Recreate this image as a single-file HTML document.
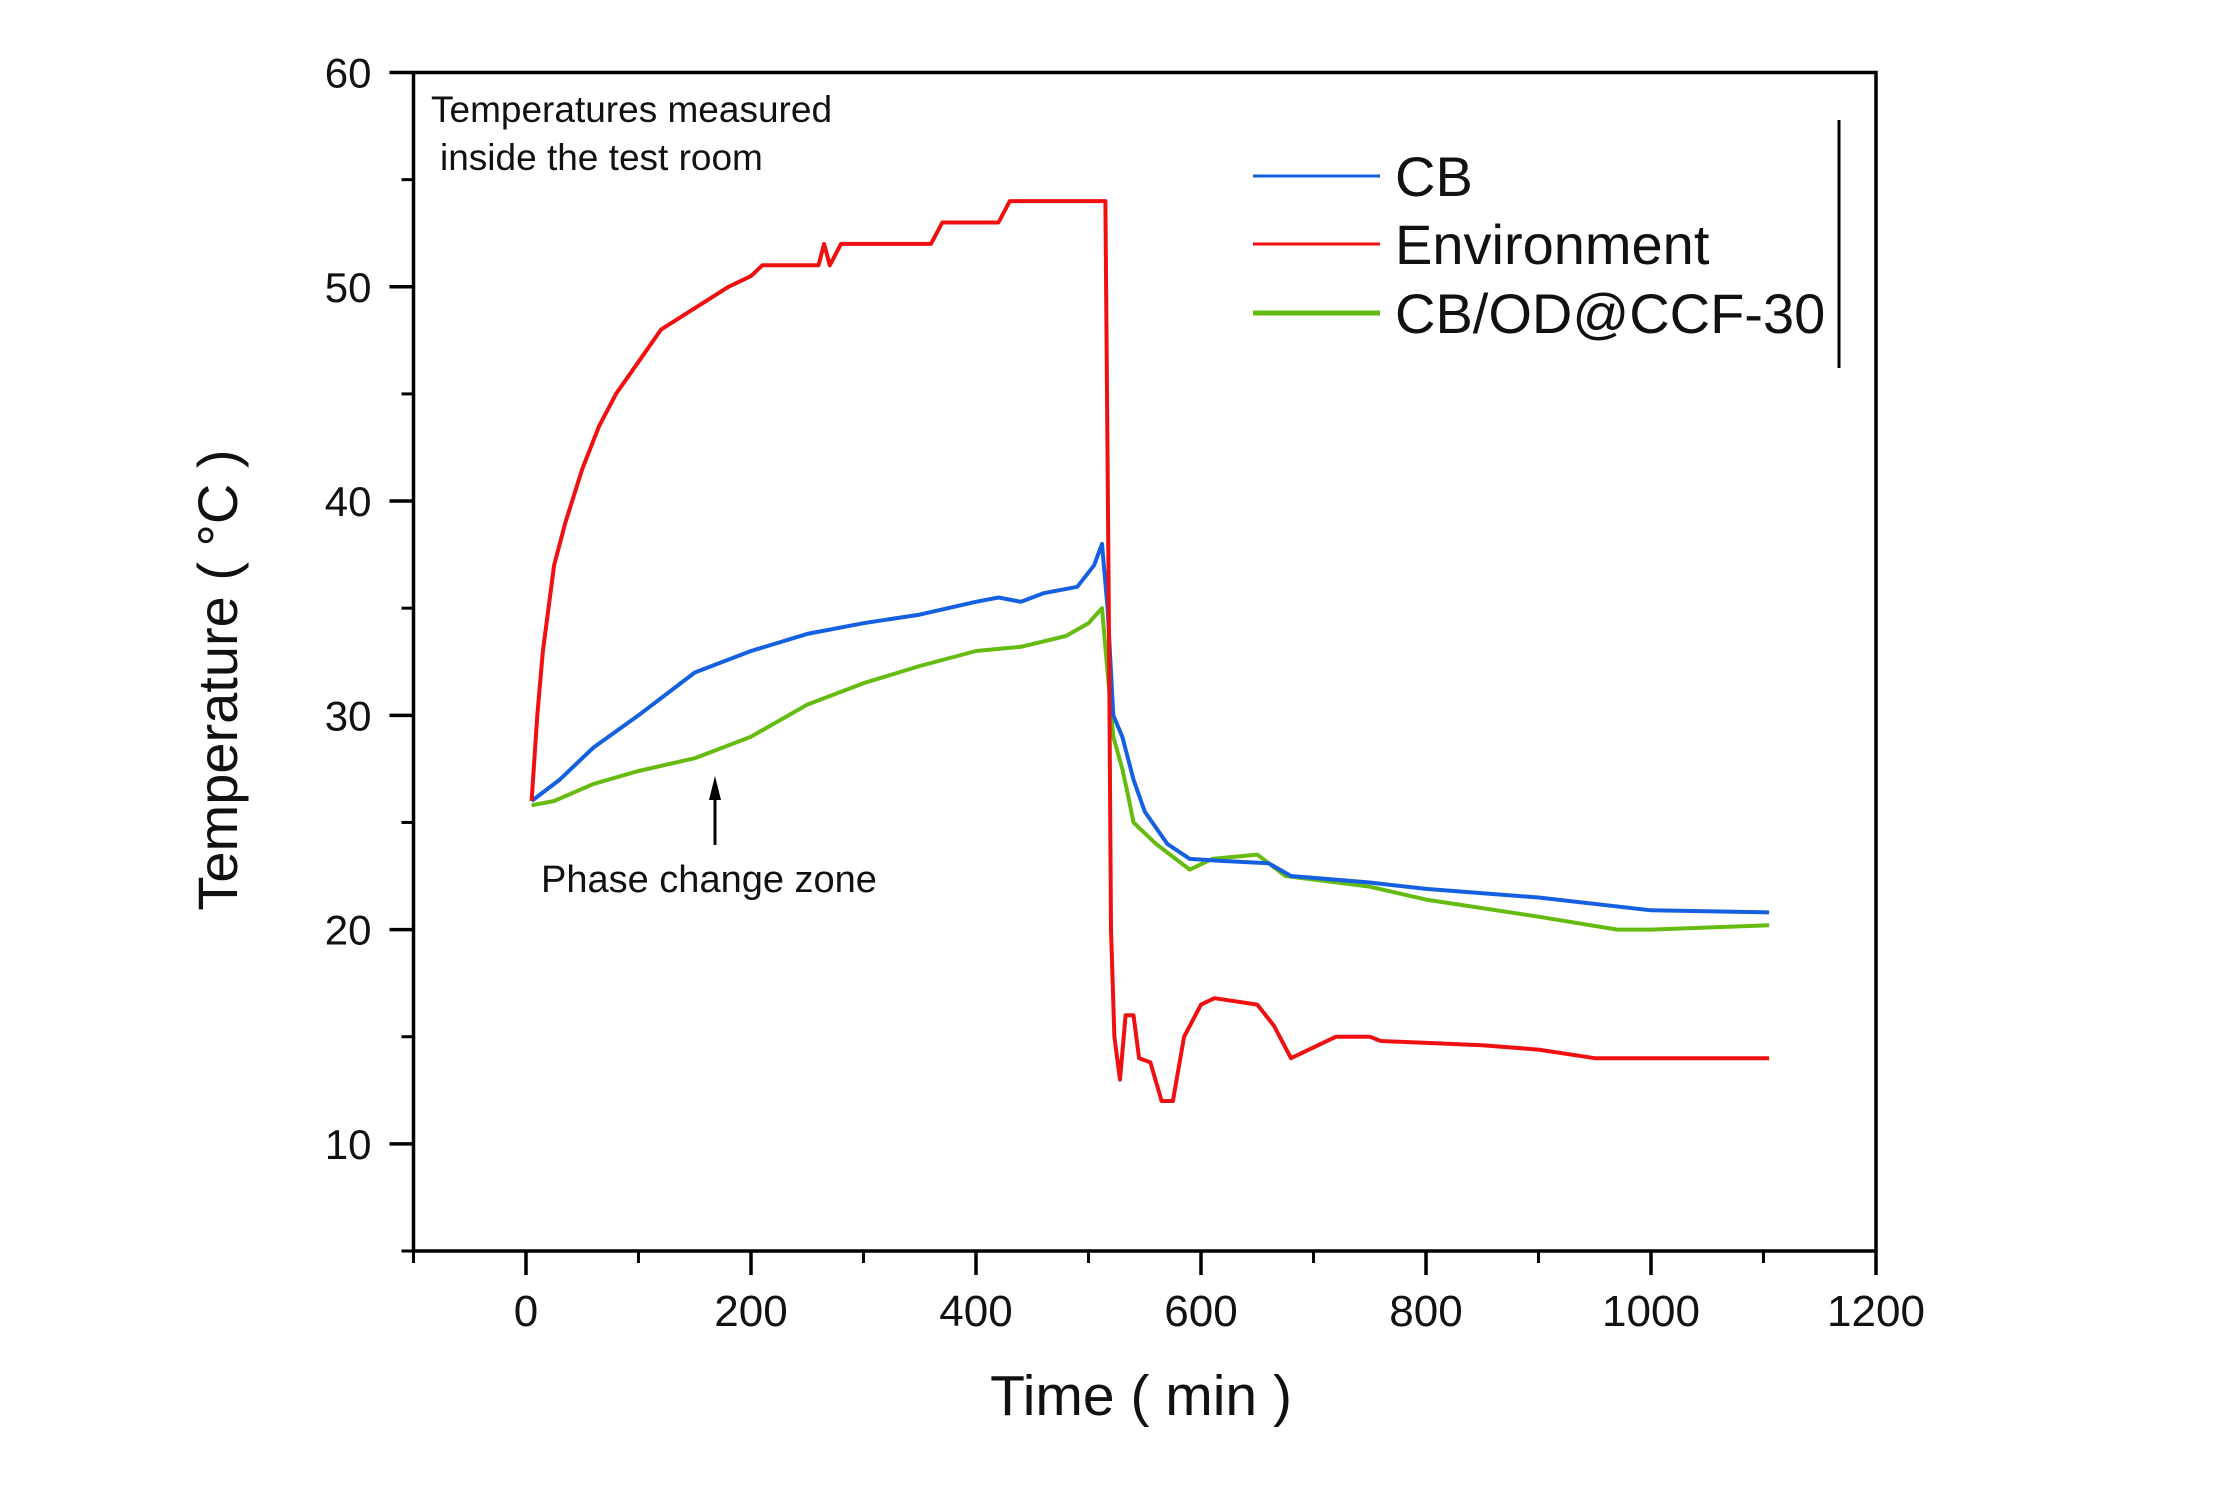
<!DOCTYPE html>
<html><head><meta charset="utf-8"><style>
html,body{margin:0;padding:0;background:#fff;}
svg{display:block;font-family:"Liberation Sans",Arial,sans-serif;}
</style></head><body>
<svg id="chart" width="2221" height="1496" viewBox="0 0 2221 1496">
<rect x="0" y="0" width="2221" height="1496" fill="#fff"/>
<g id="axes"></g>
<g id="series"></g>
<text x="431" y="122" font-size="37" fill="#111">Temperatures measured</text>
<text x="440" y="170" font-size="37" fill="#111">inside the test room</text>
<text x="541" y="892" font-size="38" fill="#111">Phase change zone</text>
<g>
<line x1="715" y1="845" x2="715" y2="790" stroke="#000" stroke-width="3"/>
<polygon points="709,800 721,800 715,776" fill="#000"/>
</g>
<g>
<line x1="1253" y1="176" x2="1380" y2="176" stroke="#1560e0" stroke-width="3"/>
<text x="1395" y="196" font-size="56" fill="#111">CB</text>
<line x1="1253" y1="244" x2="1380" y2="244" stroke="#f01010" stroke-width="3"/>
<text x="1395" y="264" font-size="56" fill="#111">Environment</text>
<line x1="1253" y1="313" x2="1380" y2="313" stroke="#66bb11" stroke-width="5"/>
<text x="1395" y="333" font-size="56" fill="#111">CB/OD@CCF-30</text>
<line x1="1839" y1="120" x2="1839" y2="368" stroke="#000" stroke-width="3"/>
</g>
<text transform="translate(237,680) rotate(-90)" text-anchor="middle" font-size="56" fill="#111">Temperature ( °C )</text>
<text x="1141" y="1415" text-anchor="middle" font-size="57" fill="#111">Time ( min )</text>
</svg>
<script>
const xTicks=[0,200,400,600,800,1000,1200];
const xMinor=[-100,100,300,500,700,900,1100];
const yTicks=[10,20,30,40,50,60];
const yMinor=[5,15,25,35,45,55];
const envX=[5,10,15,25,35,50,65,80,100,120,150,180,200,210,260,265,270,280,360,370,420,430,515,518,520,523,528,533,540,545,555,565,575,585,600,612,650,665,680,700,720,750,760,850,900,950,1105];
const envY=[26,30,33,37,39,41.5,43.5,45,46.5,48,49,50,50.5,51,51,52,51,52,52,53,53,54,54,35,20,15,13,16,16,14,13.8,12,12,15,16.5,16.8,16.5,15.5,14,14.5,15,15,14.8,14.6,14.4,14,14];
const cbX=[5,30,60,100,150,200,250,300,350,400,420,440,460,490,505,512,517,522,530,540,550,570,590,620,660,680,750,800,900,1000,1105];
const cbY=[26,27,28.5,30,32,33,33.8,34.3,34.7,35.3,35.5,35.3,35.7,36,37,38,35,30,29,27,25.5,24,23.3,23.2,23.1,22.5,22.2,21.9,21.5,20.9,20.8];
const grX=[5,25,60,100,150,200,250,300,350,400,440,480,500,512,517,522,530,535,540,560,590,610,650,675,750,800,900,970,1000,1105];
const grY=[25.8,26,26.8,27.4,28,29,30.5,31.5,32.3,33,33.2,33.7,34.3,35,32,29,27.5,26.3,25,24,22.8,23.3,23.5,22.5,22,21.4,20.6,20,20,20.2];

const L=413.5,R=1876,T=72.5,B=1251,xmin=-100,xmax=1200,ymin=5,ymax=60;
function sx(v){return L+(v-xmin)/(xmax-xmin)*(R-L);}
function sy(v){return B-(v-ymin)/(ymax-ymin)*(B-T);}
const NS="http://www.w3.org/2000/svg";
const axes=document.getElementById('axes');
const series=document.getElementById('series');
function mk(tag,attrs,parent){const e=document.createElementNS(NS,tag);for(const k in attrs)e.setAttribute(k,attrs[k]);parent.appendChild(e);return e;}

const frame=mk('rect',{x:L,y:T,width:R-L,height:B-T,fill:'none',stroke:'#000','stroke-width':3.5},axes);



xTicks.forEach(v=>{
  const t=mk('line',{x1:sx(v),x2:sx(v),y1:B,y2:B+24,stroke:'#000','stroke-width':3.5},axes);
  
  
  const l=mk('text',{x:sx(v),y:B+75,'text-anchor':'middle','font-size':44,fill:'#111'},axes);
  l.textContent=v;
  
  
});
xMinor.forEach(v=>{
  const t=mk('line',{x1:sx(v),x2:sx(v),y1:B,y2:B+12,stroke:'#000','stroke-width':3},axes);
  
  
});
yTicks.forEach(v=>{
  const t=mk('line',{x1:L-24,x2:L,y1:sy(v),y2:sy(v),stroke:'#000','stroke-width':3.5},axes);
  
  
  const l=mk('text',{x:L-42,y:sy(v)+15,'text-anchor':'end','font-size':42,fill:'#111'},axes);
  l.textContent=v;
  
  
});
yMinor.forEach(v=>{
  const t=mk('line',{x1:L-12,x2:L,y1:sy(v),y2:sy(v),stroke:'#000','stroke-width':3},axes);
  
  
});

function drawLine(xs,ys,color,w,name){
  const pts=xs.map((x,i)=>sx(x).toFixed(1)+','+sy(ys[i]).toFixed(1)).join(' ');
  const p=mk('polyline',{points:pts,fill:'none',stroke:color,'stroke-width':w,'stroke-linejoin':'round'},series);
  
  
}
drawLine(grX,grY,'#66bb11',4,'series-cb-od-ccf-30');
drawLine(cbX,cbY,'#1560e0',4,'series-cb');
drawLine(envX,envY,'#f01010',4,'series-environment');
</script>
</body></html>
